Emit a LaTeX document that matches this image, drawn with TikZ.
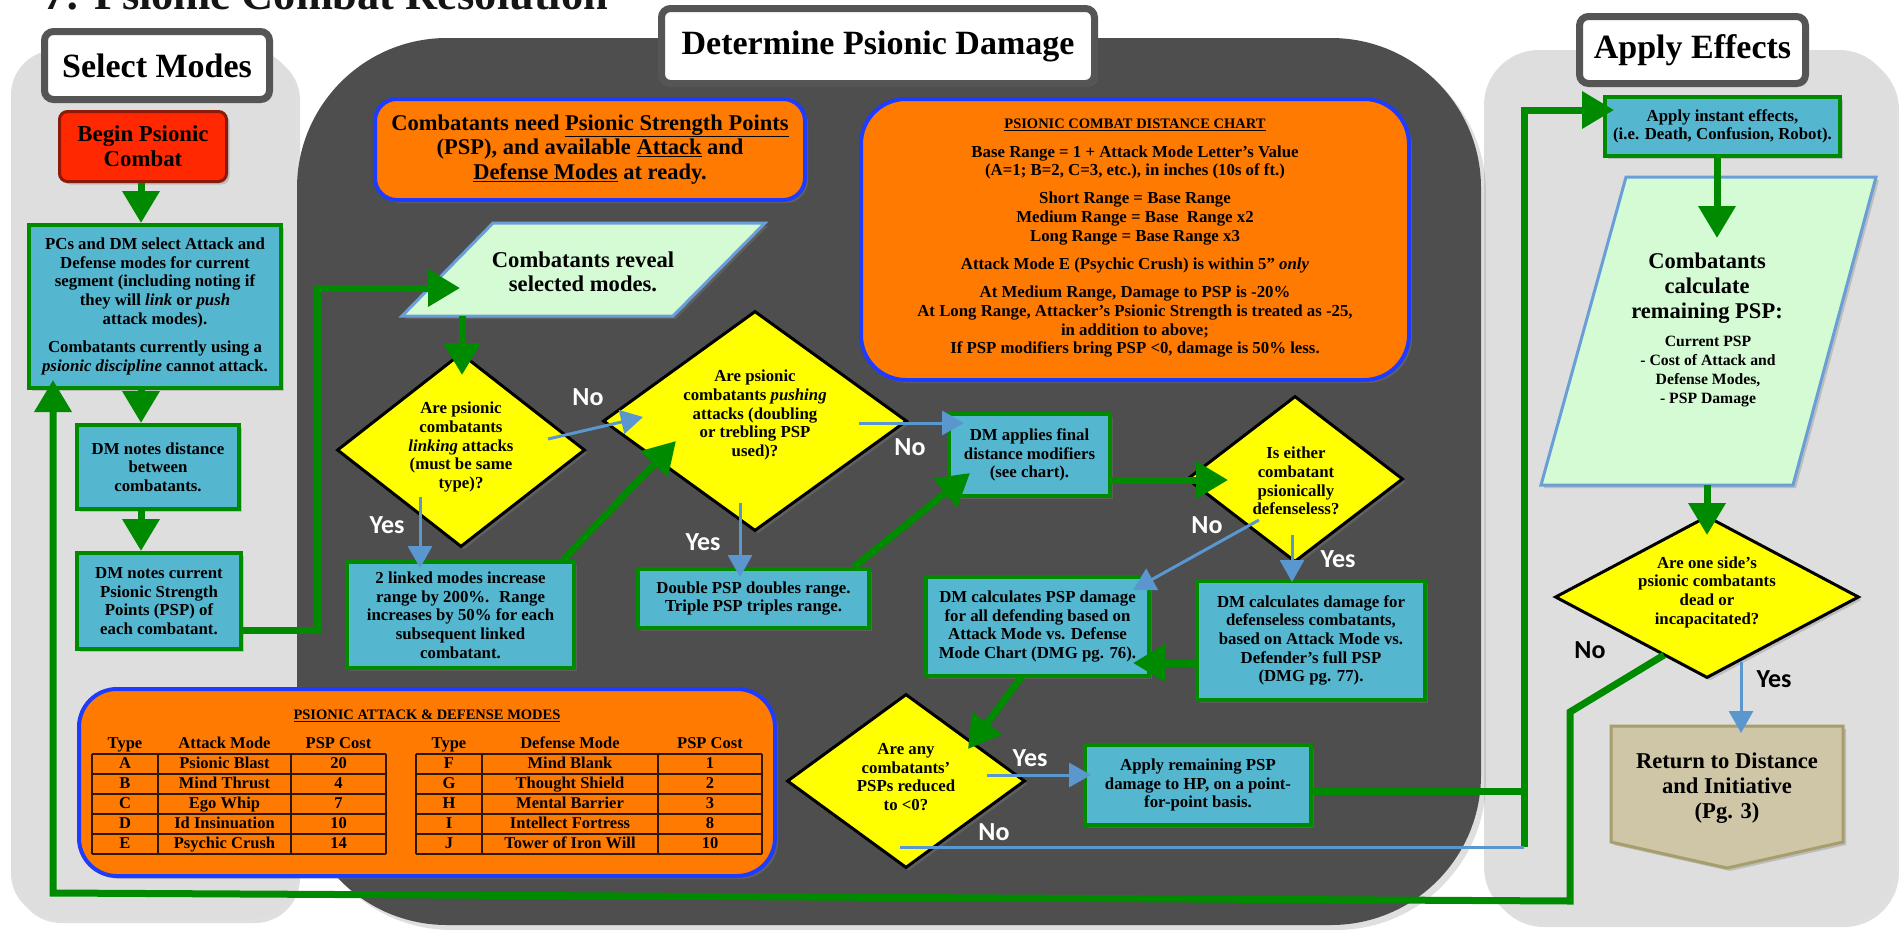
\documentclass[tikz,border=0pt]{standalone}
\usepackage{fontspec}
\setmainfont{Liberation Serif}
\newfontfamily\lblfont{Carlito}
\usetikzlibrary{arrows.meta,shapes.geometric,shadows}
\newcommand{\fsz}[2]{\fontsize{#1pt}{#2pt}\selectfont}
\definecolor{darkpanel}{HTML}{4E4E4E}
\definecolor{panelgray}{HTML}{DEDEDE}
\definecolor{hdrgray}{HTML}{555555}
\definecolor{boxblue}{HTML}{55B6CF}
\definecolor{boxgreen}{HTML}{008A00}
\definecolor{arrgreen}{HTML}{008A00}
\definecolor{arrblue}{HTML}{5B97CF}
\definecolor{diayellow}{HTML}{FFFF00}
\definecolor{infoorange}{HTML}{FF7A00}
\definecolor{infoblue}{HTML}{1E3CFF}
\definecolor{paragreen}{HTML}{D5FBD5}
\definecolor{parablue}{HTML}{6A9ED6}
\definecolor{tanfill}{HTML}{CEC6A6}
\definecolor{tanline}{HTML}{A69E6C}
\definecolor{beginred}{HTML}{FF2800}
\definecolor{begindark}{HTML}{8C1A0A}
\definecolor{gridcol}{HTML}{2E1800}
\definecolor{titlecol}{HTML}{151515}
\tikzset{
  shd/.style={drop shadow={shadow xshift=3pt,shadow yshift=-3pt,opacity=0.35}},
  shdp/.style={drop shadow={shadow xshift=5pt,shadow yshift=-5pt,opacity=0.25}},
  hdr/.style={draw=hdrgray, line width=7pt, fill=white, rounded corners=9pt, inner sep=0pt, font=\bfseries\fsz{34}{38}, shd},
  box/.style={draw=boxgreen, line width=4pt, fill=boxblue, inner sep=0pt, align=center, font=\bfseries\fsz{16.8}{18.7}, shd},
  info/.style={draw=infoblue, line width=4pt, fill=infoorange, inner sep=0pt, shd},
  dia/.style={diamond, draw=black, line width=3pt, fill=diayellow, inner sep=0pt, shd},
  dtext/.style={align=center, font=\bfseries\fsz{16.8}{18.7}, inner sep=0pt},
  gA/.style={draw=arrgreen, line width=7pt, -{Triangle[width=36pt,length=32pt]}},
  gL/.style={draw=arrgreen, line width=7pt},
  bA/.style={draw=arrblue, line width=3pt, -{Triangle[width=24pt,length=22pt]}},
  bL/.style={draw=arrblue, line width=3pt},
  yn/.style={font=\lblfont\bfseries\fsz{26}{28}, text=white, inner sep=0pt},
  ynb/.style={yn, text=black},
  para/.style={draw=parablue, line width=3pt, fill=paragreen, shd},
  cell/.style={font=\bfseries\fsz{16.5}{18}, inner sep=0pt, text height=11.5pt, text depth=3.5pt},
  grid/.style={draw=gridcol, line width=1.6pt},
}
\begin{document}
\begin{tikzpicture}[x=1pt,y=-1pt]
\useasboundingbox (0,0) rectangle (1902,929);
\fill[white] (0,0) rectangle (1902,929);
% panels
\fill[panelgray, rounded corners=45pt, shdp] (11,50) rectangle (295,918);
\fill[panelgray, rounded corners=55pt, shdp] (1484,50) rectangle (1894,922);
\fill[darkpanel, rounded corners=150pt, shdp] (297,38) rectangle (1481,925);
% title
\node[anchor=base west, inner sep=0pt, font=\bfseries\fsz{44.4}{48}, text=titlecol] (title) at (43,9.5) {7: Psionic Combat Resolution};
% headers
\node[hdr, minimum width=225pt, minimum height=68pt] (hsel) at (157,65.5) {Select Modes};
\node[hdr, minimum width=433pt, minimum height=75pt] (hdet) at (878,46) {Determine Psionic Damage};
\node[hdr, minimum width=226pt, minimum height=67pt] (happ) at (1692.5,50) {Apply Effects};
% info boxes
\node[info, rounded corners=22pt, minimum width=430pt, minimum height=101pt, align=center, font=\bfseries\fsz{22.5}{24.7}] (need) at (590,149.5)
 {Combatants need \underline{Psionic Strength Points}\\(PSP), and available \underline{Attack} and\\\underline{Defense Modes} at ready.};
\node[info, rounded corners=45pt, minimum width=548pt, minimum height=281pt] (chart) at (1135,239.5) {};
\node[font=\bfseries\fsz{14.5}{16}, inner sep=0pt] (charttitle) at (1135,125) {\underline{PSIONIC COMBAT DISTANCE CHART}};
\node[dtext] (chartbody) at (1135,251.5) {Base Range = 1 + Attack Mode Letter’s Value\\
(A=1; B=2, C=3, etc.), in inches (10s of ft.)\\[9.5pt]
Short Range = Base Range\\
Medium Range = Base~ Range x2\\
Long Range = Base Range x3\\[9.5pt]
Attack Mode E (Psychic Crush) is within 5” \textit{only}\\[9.5pt]
At Medium Range, Damage to PSP is -20\%\\
At Long Range, Attacker’s Psionic Strength is treated as -25,\\
in addition to above;\\
If PSP modifiers bring PSP <0, damage is 50\% less.};
% modes table
\node[info, rounded corners=38pt, minimum width=696pt, minimum height=187pt] (modes) at (427,782.5) {};
\node[font=\bfseries\fsz{14.5}{16}, inner sep=0pt] (modestitle) at (427,716) {\underline{PSIONIC ATTACK \& DEFENSE MODES}};
\node[cell] (h1) at (125,744) {Type};
\node[cell] (h2) at (224.5,744) {Attack Mode};
\node[cell] (h3) at (338.5,744) {PSP Cost};
\node[cell] (h4) at (449,744) {Type};
\node[cell] (h5) at (570,744) {Defense Mode};
\node[cell] (h6) at (710,744) {PSP Cost};
\foreach \x in {92,158,291,386,416,482,658,762} \draw[grid] (\x,754) -- (\x,854);
\foreach \y in {774,794,814,834,854} {\draw[grid] (92,\y) -- (386,\y); \draw[grid] (416,\y) -- (762,\y);}
\draw[grid, line width=2.4pt] (92,754) -- (386,754);
\draw[grid, line width=2.4pt] (416,754) -- (762,754);
\foreach \ua/\ub/\uc/\va/\vb/\vc [count=\i] in {A/Psionic Blast/20/F/Mind Blank/1, B/Mind Thrust/4/G/Thought Shield/2, C/Ego Whip/7/H/Mental Barrier/3, D/Id Insinuation/10/I/Intellect Fortress/8, E/Psychic Crush/14/J/Tower of Iron Will/10}{
  \pgfmathsetmacro\yy{744+20*\i}
  \node[cell] (ta\i) at (125,\yy) {\ua};
  \node[cell] (tb\i) at (224.5,\yy) {\ub};
  \node[cell] (tc\i) at (338.5,\yy) {\uc};
  \node[cell] (td\i) at (449,\yy) {\va};
  \node[cell] (te\i) at (570,\yy) {\vb};
  \node[cell] (tf\i) at (710,\yy) {\vc};
}
% select modes column
\node[draw=begindark, line width=3pt, fill=beginred, rounded corners=8pt, minimum width=167pt, minimum height=70pt, inner sep=0pt, align=center, font=\bfseries\fsz{22.8}{25}, shd] (begin) at (143,146.5) {Begin Psionic\\Combat};
\node[box, minimum width=252pt, minimum height=163pt] (box1) at (155,306.5) {PCs and DM select Attack and\\
Defense modes for current\\
segment (including noting if\\
they will \textit{link} or \textit{push}\\
attack modes).\\[10pt]
Combatants currently using a\\
\textit{psionic discipline} cannot attack.};
\node[box, minimum width=162pt, minimum height=84pt] (box2) at (158,467) {DM notes distance\\between\\combatants.};
\node[box, minimum width=164pt, minimum height=96pt] (box3) at (159,601) {DM notes current\\Psionic Strength\\Points (PSP) of\\each combatant.};
% determine damage column
\path[para] (402,316) -- (493,223) -- (765,223) -- (673,316) -- cycle;
\node[font=\bfseries\fsz{22.6}{24}, align=center, inner sep=0pt] (p1t) at (583,272) {Combatants reveal\\selected modes.};
\node[dia, minimum width=248pt, minimum height=194pt] (d1) at (461,450) {};
\node[dtext] (d1t) at (461,447) {Are psionic\\combatants\\\textit{linking} attacks\\(must be same\\type)?};
\node[dia, minimum width=304pt, minimum height=220pt] (d2) at (755,421) {};
\node[dtext] (d2t) at (755,415) {Are psionic\\combatants \textit{pushing}\\attacks (doubling\\or trebling PSP\\used)?};
\node[box, minimum width=227pt, minimum height=106pt] (box4) at (460.5,615) {2 linked modes increase\\range by 200\%.~ Range\\increases by 50\% for each\\subsequent linked\\combatant.};
\node[box, minimum width=231pt, minimum height=59pt] (box6) at (753.5,598.5) {Double PSP doubles range.\\Triple PSP triples range.};
\node[box, minimum width=161pt, minimum height=82pt] (box5) at (1029.5,455) {DM applies final\\distance modifiers\\(see chart).};
\node[dia, minimum width=216pt, minimum height=166pt] (d3) at (1295,479) {};
\node[dtext] (d3t) at (1296,481) {Is either\\combatant\\psionically\\defenseless?};
\node[box, minimum width=223pt, minimum height=99pt] (box7) at (1037.5,626.5) {DM calculates PSP damage\\for all defending based on\\Attack Mode vs. Defense\\Mode Chart (DMG pg. 76).};
\node[box, minimum width=228pt, minimum height=119pt] (box8) at (1311,640.5) {DM calculates damage for\\defenseless combatants,\\based on Attack Mode vs.\\Defender’s full PSP\\(DMG pg. 77).};
\node[dia, minimum width=238pt, minimum height=174pt] (d4) at (906,781) {};
\node[dtext] (d4t) at (906,777) {Are any\\combatants’\\PSPs reduced\\to <0?};
\node[box, minimum width=226pt, minimum height=80pt] (box9) at (1198,785) {Apply remaining PSP\\damage to HP, on a point-\\for-point basis.};
% apply effects column
\node[box, minimum width=235pt, minimum height=59pt] (box10) at (1722.5,126.5) {Apply instant effects,\\(i.e. Death, Confusion, Robot).};
\path[para] (1541,485) -- (1626,177) -- (1876,177) -- (1793,485) -- cycle;
\node[font=\bfseries\fsz{22.5}{25}, align=center, inner sep=0pt] (p2t) at (1707,288) {Combatants\\calculate\\remaining PSP:};
\node[font=\bfseries\fsz{15.7}{19}, align=center, inner sep=0pt] (p2s) at (1708,371.5) {Current PSP\\- Cost of Attack and\\Defense Modes,\\- PSP Damage};
\node[dia, minimum width=304pt, minimum height=162pt] (d5) at (1707,597) {};
\node[dtext] (d5t) at (1707,592) {Are one side’s\\psionic combatants\\dead or\\incapacitated?};
\path[draw=tanline, line width=3pt, fill=tanfill, shd] (1611,726) -- (1843,726) -- (1843,842) -- (1727,868) -- (1611,842) -- cycle;
\node[font=\bfseries\fsz{22.6}{25}, align=center, inner sep=0pt] (ret) at (1727,788) {Return to Distance\\and Initiative\\(Pg. 3)};
% connector points
\coordinate (colx) at (141,0);
\coordinate (lpA) at (317,630);
\coordinate (lpB) at (317,288);
\coordinate (p1in) at (460,288);
\coordinate (p1bot) at (462,316);
\coordinate (d1in) at (462,375);
\coordinate (b4out) at (563,560);
\coordinate (d2in) at (676,441);
\coordinate (b6out) at (854,567);
\coordinate (b5in) at (970,473);
\coordinate (d3in) at (1228,480);
\coordinate (b7in) at (1133,663);
\coordinate (b7out) at (1022,676);
\coordinate (d4in) at (968,749);
\coordinate (jn) at (1524,791);
\coordinate (jbot) at (1524,847);
\coordinate (jtop) at (1524,110);
\coordinate (b10in) at (1614,110);
\coordinate (p2in) at (1717,238);
\coordinate (p2bot) at (1707,485);
\coordinate (d5in) at (1707,535);
\coordinate (d5no) at (1664,655);
\coordinate (lr1) at (1570,712);
\coordinate (lr2) at (1570,901);
\coordinate (ll1) at (53,893);
\coordinate (b1in) at (53,380);
\coordinate (d1no) at (548,439);
\coordinate (d2noin) at (643,417);
\coordinate (d1yes) at (420,497);
\coordinate (b4in) at (420,568);
\coordinate (d2no) at (859,423);
\coordinate (b5noin) at (964,423);
\coordinate (d2yes) at (740,503);
\coordinate (b6in) at (740,577);
\coordinate (d3no) at (1259,520);
\coordinate (b7noin) at (1133,590);
\coordinate (d3yes) at (1292,535);
\coordinate (b8in) at (1292,582);
\coordinate (d4yes) at (987,775);
\coordinate (b9in) at (1091,775);
\coordinate (d4no) at (900,847);
\coordinate (d5yes) at (1741,662);
\coordinate (b11in) at (1741,733);
% green connectors
\draw[gA] (begin.south -| colx) -- (box1.north -| colx);
\draw[gA] (box1.south -| colx) -- (box2.north -| colx);
\draw[gA] (box2.south -| colx) -- (box3.north -| colx);
\draw[gA] (box3.east |- lpA) -- (lpA) -- (lpB) -- (p1in);
\draw[gA] (p1bot) -- (d1in);
\draw[gA] (b4out) -- (d2in);
\draw[gA] (b6out) -- (b5in);
\draw[gA] (box5.east |- d3in) -- (d3in);
\draw[gA] (box8.west |- b7in) -- (b7in);
\draw[gA] (b7out) -- (d4in);
\draw[gL] (box9.east |- jn) -- (jn);
\draw[gA] (jbot) -- (jtop) -- (b10in);
\draw[gA] (box10.south -| p2in) -- (p2in);
\draw[gA] (p2bot) -- (d5in);
\draw[gA] (d5no) -- (lr1) -- (lr2) -- (ll1) -- (b1in);
% blue connectors
\draw[bA] (d1no) -- (d2noin);
\draw[bA] (d1yes) -- (b4in);
\draw[bA] (d2no) -- (b5noin);
\draw[bA] (d2yes) -- (b6in);
\draw[bA] (d3no) -- (b7noin);
\draw[bA] (d3yes) -- (b8in);
\draw[bA] (d4yes) -- (b9in);
\draw[bL] (d4no) -- (jbot);
\draw[bA] (d5yes) -- (b11in);
% labels
\node[yn] (n1) at (588,397) {No};
\node[yn] (y1) at (387,525) {Yes};
\node[yn] (n2) at (910,447) {No};
\node[yn] (y2) at (703,542) {Yes};
\node[yn] (n3) at (1207,525) {No};
\node[yn] (y3) at (1338,559) {Yes};
\node[yn] (y4) at (1030,758) {Yes};
\node[yn] (n4) at (994,832) {No};
\node[ynb] (n5) at (1590,650) {No};
\node[ynb] (y5) at (1774,679) {Yes};
\end{tikzpicture}
\end{document}
